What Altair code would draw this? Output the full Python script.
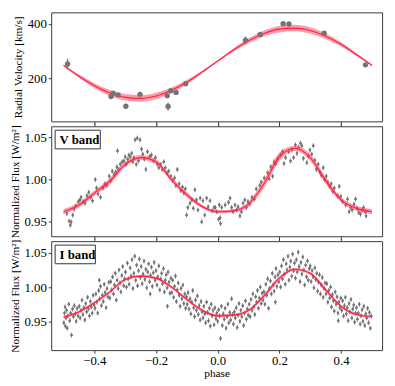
import altair as alt
import pandas as pd

# ---------------- data ----------------
rv_phase = [-0.487, -0.346, -0.339, -0.323, -0.298, -0.252, -0.164, -0.161, -0.152,
            -0.135, -0.104, 0.090, 0.138, 0.212, 0.231, 0.345, 0.479]
rv_value = [252, 132, 144, 138, 96, 140, 135, 95, 153, 147, 179, 340, 361, 401, 400, 366, 249]
rv_error = [20, 6, 6, 6, 9, 6, 6, 15, 6, 6, 6, 14, 6, 5, 5, 6, 5]

model_phase = [-0.50, -0.45, -0.40, -0.35, -0.30, -0.25, -0.20, -0.15, -0.10, -0.05, 0.00,
               0.05, 0.10, 0.15, 0.20, 0.25, 0.30, 0.35, 0.40, 0.45, 0.50]
rv_model = [247, 207, 172, 145, 129, 125, 134, 155, 185, 223, 263,
            303, 338, 365, 381, 385, 376, 355, 325, 287, 247]
rv_spread = [3, 6, 9, 11, 12, 12, 12, 10, 8, 5, 3, 6, 9, 11, 12, 12, 12, 10, 8, 5, 3]

v_model = [0.962, 0.970, 0.984, 0.998, 1.018, 1.026, 1.021, 1.000, 0.982, 0.968, 0.962,
           0.963, 0.971, 0.995, 1.027, 1.037, 1.026, 0.999, 0.976, 0.966, 0.962]
v_spread = [0.003, 0.003, 0.003, 0.004, 0.003, 0.003, 0.003, 0.003, 0.003, 0.002, 0.002,
            0.002, 0.003, 0.005, 0.005, 0.003, 0.004, 0.004, 0.003, 0.003, 0.003]

i_model = [0.956, 0.964, 0.977, 0.993, 1.011, 1.016, 1.013, 1.000, 0.982, 0.966, 0.958,
           0.959, 0.966, 0.987, 1.013, 1.026, 1.020, 0.996, 0.972, 0.960, 0.957]
i_spread = [0.002, 0.002, 0.002, 0.002, 0.002, 0.002, 0.002, 0.002, 0.002, 0.002, 0.002,
            0.002, 0.002, 0.003, 0.003, 0.002, 0.002, 0.003, 0.002, 0.002, 0.002]

v_phase = [
    -0.489, -0.482, -0.478, -0.475, -0.470, -0.466, -0.460, -0.452, -0.447, -0.443,
    -0.436, -0.430, -0.424, -0.418, -0.412, -0.406, -0.397, -0.393, -0.388, -0.380,
    -0.372, -0.366, -0.360, -0.352, -0.347, -0.342, -0.336, -0.331, -0.327, -0.325,
    -0.322, -0.316, -0.310, -0.304, -0.300, -0.297, -0.292, -0.288, -0.284, -0.279,
    -0.275, -0.272, -0.268, -0.264, -0.261, -0.257, -0.252, -0.247, -0.243, -0.238,
    -0.233, -0.228, -0.221, -0.215, -0.208, -0.202, -0.196, -0.191, -0.185, -0.180,
    -0.175, -0.170, -0.164, -0.159, -0.152, -0.146, -0.140, -0.136, -0.131, -0.125,
    -0.120, -0.114, -0.110, -0.105, -0.101, -0.097, -0.090, -0.084, -0.079, -0.074,
    -0.069, -0.064, -0.057, -0.052, -0.048, -0.042, -0.036, -0.031, -0.025, -0.018,
    -0.012,
    -0.008, -0.003, 0.003, 0.005, 0.008, 0.009, 0.013, 0.024, 0.035, 0.040,
    0.045, 0.050, 0.056, 0.061, 0.066, 0.072, 0.077, 0.082, 0.088, 0.093,
    0.098, 0.104, 0.111, 0.119, 0.125, 0.136, 0.141, 0.151, 0.162, 0.167,
    0.172, 0.178, 0.183, 0.188, 0.194, 0.204, 0.210, 0.215, 0.220, 0.230,
    0.236, 0.241, 0.246, 0.252, 0.257, 0.262, 0.268, 0.273, 0.278, 0.289,
    0.294, 0.299, 0.305, 0.310, 0.315, 0.320, 0.326, 0.331, 0.336, 0.342,
    0.347, 0.352, 0.357, 0.363, 0.368, 0.373, 0.378, 0.389, 0.394, 0.399,
    0.405, 0.415, 0.421, 0.426, 0.431, 0.436, 0.442, 0.447, 0.452, 0.457,
    0.463, 0.468, 0.473, 0.479, 0.481]
v_flux = [
    0.960, 0.951, 0.946, 0.950, 0.958, 0.965, 0.969, 0.974, 0.976, 0.979,
    0.974, 0.972, 0.981, 0.985, 0.979, 0.975, 1.000, 0.990, 0.983, 0.979,
    0.990, 0.995, 0.993, 1.004, 0.999, 1.010, 1.006, 1.009, 1.015, 1.034,
    1.012, 1.018, 1.021, 1.022, 1.027, 1.018, 1.024, 1.029, 1.027, 1.031,
    1.021, 1.026, 1.047, 1.018, 1.049, 1.022, 1.047, 1.036, 1.030, 1.024,
    1.012, 1.033, 1.027, 1.029, 1.022, 1.026, 1.018, 1.014, 1.018, 1.012,
    1.021, 1.014, 1.008, 1.010, 1.004, 0.999, 1.002, 0.993, 1.012, 0.995,
    0.987, 0.991, 0.984, 0.989, 0.958, 0.967, 0.972, 0.976, 0.966, 0.988,
    0.976, 0.964, 0.978, 0.950, 0.975, 0.958, 0.978, 0.968, 0.975, 0.963,
    0.967,
    0.967, 0.962, 0.953, 0.970, 0.955, 0.948, 0.967, 0.970, 0.973, 0.978,
    0.967, 0.962, 0.970, 0.964, 0.968, 0.957, 0.962, 0.972, 0.976, 0.967,
    0.974, 0.971, 0.979, 0.977, 0.989, 0.993, 0.997, 1.002, 1.008, 1.001,
    1.015, 1.004, 1.021, 1.019, 1.024, 1.029, 1.033, 1.019, 1.026, 1.033,
    1.022, 1.035, 1.026, 1.041, 1.031, 1.038, 1.043, 1.040, 1.025, 1.020,
    1.028, 1.035, 1.030, 1.040, 1.023, 1.012, 1.018, 1.009, 1.005, 1.014,
    1.000, 1.004, 0.997, 0.992, 0.995, 0.986, 0.990, 0.981, 0.992, 0.980,
    0.974, 0.970, 0.977, 0.962, 0.967, 0.964, 0.971, 0.977, 0.966, 0.961,
    0.959, 0.964, 0.967, 0.962, 0.957]

i_phase = [
    -0.499, -0.497, -0.495, -0.494, -0.492, -0.490, -0.488, -0.486, -0.483, -0.480,
    -0.477, -0.474, -0.471, -0.468, -0.465, -0.462, -0.459, -0.456, -0.453,
    -0.449, -0.446, -0.443, -0.440, -0.437, -0.434, -0.431, -0.428, -0.425, -0.422,
    -0.419, -0.416, -0.413, -0.410, -0.407, -0.404, -0.401,
    -0.398, -0.395, -0.392, -0.389, -0.386, -0.383, -0.380, -0.377, -0.374, -0.371,
    -0.368, -0.365, -0.362, -0.359, -0.356, -0.353, -0.384,
    -0.350, -0.347, -0.344, -0.341, -0.338, -0.335, -0.332, -0.329, -0.326, -0.323,
    -0.320, -0.317, -0.314, -0.311, -0.308, -0.305, -0.302,
    -0.299, -0.296, -0.293, -0.290, -0.287, -0.284, -0.281, -0.278, -0.275, -0.272,
    -0.269, -0.266, -0.263, -0.260, -0.257, -0.254, -0.251,
    -0.248, -0.245, -0.242, -0.239, -0.236, -0.233, -0.230, -0.227, -0.224, -0.221,
    -0.218, -0.215, -0.212, -0.209, -0.206, -0.203, -0.219,
    -0.200, -0.197, -0.194, -0.191, -0.188, -0.185, -0.182, -0.179, -0.176, -0.173,
    -0.170, -0.167, -0.164, -0.161, -0.158, -0.155, -0.152,
    -0.149, -0.146, -0.143, -0.140, -0.137, -0.134, -0.131, -0.128, -0.125, -0.122,
    -0.119, -0.116, -0.113, -0.110, -0.107, -0.104, -0.101, -0.163,
    -0.099, -0.096, -0.093, -0.090, -0.087, -0.084, -0.081, -0.078, -0.075, -0.072,
    -0.069, -0.066, -0.063, -0.060, -0.057, -0.054, -0.051,
    -0.048, -0.045, -0.042, -0.039, -0.036, -0.033, -0.030, -0.027, -0.024, -0.021,
    -0.018, -0.015, -0.012, -0.009, -0.006, -0.003,
    0.000, 0.003, 0.006, 0.009, 0.012, 0.015, 0.018, 0.021, 0.024, 0.027,
    0.030, 0.033, 0.036, 0.039, 0.042, 0.045, 0.048,
    0.051, 0.054, 0.057, 0.060, 0.063, 0.066, 0.069, 0.072, 0.075, 0.078,
    0.081, 0.084, 0.087, 0.090, 0.093, 0.096, 0.099,
    0.102, 0.105, 0.108, 0.111, 0.114, 0.117, 0.120, 0.123, 0.126, 0.129,
    0.132, 0.135, 0.138, 0.141, 0.144, 0.147,
    0.150, 0.153, 0.156, 0.159, 0.162, 0.165, 0.168, 0.171, 0.174, 0.177,
    0.180, 0.183, 0.186, 0.189, 0.192, 0.195, 0.198, 0.187,
    0.201, 0.204, 0.207, 0.210, 0.213, 0.216, 0.219, 0.222, 0.225, 0.228,
    0.231, 0.234, 0.237, 0.240, 0.243, 0.246, 0.249,
    0.252, 0.255, 0.258, 0.261, 0.264, 0.267, 0.270, 0.273, 0.276, 0.279,
    0.282, 0.285, 0.288, 0.291, 0.294, 0.297,
    0.300, 0.303, 0.306, 0.309, 0.312, 0.315, 0.318, 0.321, 0.324, 0.327,
    0.330, 0.333, 0.336, 0.339, 0.342, 0.345, 0.348,
    0.351, 0.354, 0.357, 0.360, 0.363, 0.366, 0.369, 0.372, 0.375, 0.378,
    0.381, 0.384, 0.387, 0.390, 0.393, 0.396, 0.399, 0.391,
    0.402, 0.405, 0.408, 0.411, 0.414, 0.417, 0.420, 0.423, 0.426, 0.429,
    0.432, 0.435, 0.438, 0.441, 0.444, 0.447,
    0.450, 0.453, 0.456, 0.459, 0.462, 0.465, 0.468, 0.471, 0.474, 0.477,
    0.480, 0.483, 0.486, 0.489, 0.492, 0.495, 0.498]
i_flux = [
    0.948, 0.962, 0.971, 0.943, 0.955, 0.966, 0.940, 0.958, 0.975, 0.951,
    0.962, 0.930, 0.968, 0.957, 0.973, 0.961, 0.950, 0.969, 0.958,
    0.972, 0.955, 0.966, 0.981, 0.960, 0.970, 0.952, 0.976, 0.964, 0.985,
    0.968, 0.958, 0.979, 0.971, 0.962, 0.988, 0.974,
    0.969, 0.990, 0.978, 0.962, 0.995, 0.983, 1.001, 0.973, 0.988, 0.979,
    1.004, 0.992, 0.970, 0.998, 0.986, 1.007, 1.010,
    0.984, 1.008, 0.996, 1.015, 0.990, 1.003, 1.020, 0.981, 1.010, 0.998,
    1.025, 1.006, 0.993, 1.017, 1.030, 1.002, 1.012,
    1.022, 1.000, 1.035, 1.012, 1.004, 1.028, 1.016, 1.040, 0.998, 1.020,
    1.045, 1.010, 1.032, 1.002, 1.024, 1.041, 1.014,
    1.030, 1.005, 1.019, 1.038, 1.011, 1.026, 0.999, 1.022, 1.034, 1.008,
    1.017, 1.029, 1.001, 1.021, 1.036, 1.010, 0.990,
    1.024, 1.003, 1.015, 1.031, 0.996, 1.012, 1.020, 1.005, 1.027, 0.993,
    1.010, 1.018, 0.999, 1.022, 1.007, 0.991, 1.013,
    0.992, 1.010, 0.985, 1.001, 1.016, 0.979, 0.996, 1.006, 0.988, 0.972,
    0.998, 0.983, 1.003, 0.976, 0.990, 0.969, 0.986, 0.972,
    0.975, 0.992, 0.968, 0.983, 0.961, 0.978, 0.995, 0.970, 0.957, 0.981,
    0.966, 0.987, 0.960, 0.973, 0.952, 0.979, 0.964,
    0.955, 0.972, 0.961, 0.948, 0.978, 0.963, 0.951, 0.969, 0.943, 0.975,
    0.958, 0.966, 0.945, 0.970, 0.954, 0.962,
    0.950, 0.967, 0.958, 0.925, 0.972, 0.944, 0.961, 0.953, 0.969, 0.940,
    0.957, 0.975, 0.948, 0.963, 0.952, 0.983, 0.960,
    0.946, 0.964, 0.955, 0.970, 0.941, 0.959, 0.976, 0.950, 0.966, 0.957,
    0.973, 0.944, 0.962, 0.980, 0.953, 0.968, 0.959,
    0.975, 0.957, 0.982, 0.966, 0.990, 0.971, 0.960, 0.986, 0.978, 0.995,
    0.969, 0.984, 1.000, 0.976, 0.991, 0.981,
    0.993, 0.975, 1.004, 0.988, 1.012, 0.969, 0.998, 1.009, 0.990, 1.020,
    1.003, 0.994, 1.015, 1.027, 1.001, 1.018, 1.008, 0.978,
    1.022, 1.000, 1.031, 1.012, 1.040, 1.019, 1.004, 1.034, 1.025, 1.045,
    1.010, 1.029, 1.038, 1.016, 1.048, 1.024, 1.035,
    1.013, 1.040, 1.022, 1.051, 1.030, 1.008, 1.036, 1.019, 1.044, 1.025,
    1.003, 1.032, 1.015, 1.038, 1.010, 1.027,
    1.031, 1.008, 1.024, 1.015, 0.999, 1.028, 1.011, 1.020, 0.994, 1.007,
    1.018, 0.990, 1.003, 1.014, 0.985, 0.998, 1.006,
    0.990, 1.005, 0.978, 0.995, 0.984, 1.000, 0.971, 0.989, 0.980, 0.965,
    0.993, 0.975, 0.986, 0.962, 0.978, 0.970, 0.984, 0.951,
    0.966, 0.980, 0.958, 0.973, 0.985, 0.961, 0.970, 0.951, 0.976, 0.964,
    0.982, 0.955, 0.968, 0.974, 0.949, 0.962,
    0.970, 0.953, 0.962, 0.975, 0.946, 0.958, 0.967, 0.950, 0.972, 0.944,
    0.961, 0.955, 0.969, 0.948, 0.963, 0.940, 0.958]

panel_labels = ["V band", "I band"]
x_ticks = [-0.4, -0.2, 0.0, 0.2, 0.4]

# ---------------- tables ----------------
rv_df = pd.DataFrame({
    "phase": rv_phase, "rv": rv_value,
    "lo": [v - e for v, e in zip(rv_value, rv_error)],
    "hi": [v + e for v, e in zip(rv_value, rv_error)],
})
model_df = pd.DataFrame({
    "phase": model_phase,
    "rv": rv_model,
    "rv_lo": [m - s for m, s in zip(rv_model, rv_spread)],
    "rv_hi": [m + s for m, s in zip(rv_model, rv_spread)],
    "v": v_model,
    "v_lo": [m - s for m, s in zip(v_model, v_spread)],
    "v_hi": [m + s for m, s in zip(v_model, v_spread)],
    "i": i_model,
    "i_lo": [m - s for m, s in zip(i_model, i_spread)],
    "i_hi": [m + s for m, s in zip(i_model, i_spread)],
})
n_v = min(len(v_phase), len(v_flux))
v_df = pd.DataFrame({"phase": v_phase[:n_v], "flux": v_flux[:n_v]})
n_i = min(len(i_phase), len(i_flux))
i_df = pd.DataFrame({"phase": i_phase[:n_i], "flux": i_flux[:n_i]})

# ---------------- styling ----------------
FONT = "Liberation Serif"
GRAY = "#747474"
BAND = "#ff4a64"
LINE = "#ff1f45"
W = 337
PLUS = "M0,-1V1M-0.45,0H0.45M-0.3,-0.3H0.3V0.3H-0.3Z"

xscale = alt.Scale(domain=[-0.54, 0.533], nice=False, zero=False)


def xenc(labels, title=None):
    return alt.X("phase:Q", scale=xscale,
                 axis=alt.Axis(values=x_ticks, labels=labels, title=title,
                               format=".1f", orient="bottom", titleFont=FONT,
                               labelFont=FONT, titlePadding=0, minExtent=0,
                               labelPadding=2))


def top_ticks(df):
    return alt.Chart(df).mark_point(opacity=0).encode(
        x=alt.X("phase:Q", scale=xscale,
                axis=alt.Axis(values=x_ticks, labels=False, title=None,
                              orient="top", minExtent=0)),
        y=alt.value(0),
    )


def label_box(text, x2):
    d = pd.DataFrame({"t": [text]})
    box = alt.Chart(d).mark_rect(fill="white", stroke="#333333", strokeWidth=1).encode(
        x=alt.value(4), x2=alt.value(x2), y=alt.value(4), y2=alt.value(23))
    txt = alt.Chart(d).mark_text(align="left", baseline="middle", font=FONT,
                                 fontWeight="bold", fontSize=13, color="black").encode(
        x=alt.value(8.5), y=alt.value(14), text="t:N")
    return box, txt


# ---- top panel: radial velocity ----
rv_axis = alt.Axis(values=[200, 400], title="Radial Velocity [km/s]", format="d",
                   titleFont=FONT, labelFont=FONT)
rv_scale = alt.Scale(domain=[40, 443], nice=False, zero=False)

rv_band = alt.Chart(model_df).mark_area(color=BAND, opacity=0.55, interpolate="monotone").encode(
    x=xenc(False), y=alt.Y("rv_lo:Q", scale=rv_scale, axis=rv_axis), y2="rv_hi:Q")
rv_line = alt.Chart(model_df).mark_line(color=LINE, strokeWidth=1.2, interpolate="monotone").encode(
    x=xenc(False), y=alt.Y("rv:Q", scale=rv_scale, axis=rv_axis))
rv_err = alt.Chart(rv_df).mark_rule(color=GRAY, strokeWidth=1.3).encode(
    x=xenc(False), y=alt.Y("lo:Q", scale=rv_scale, axis=rv_axis), y2="hi:Q")
rv_pts = alt.Chart(rv_df).mark_circle(color=GRAY, size=30, opacity=1).encode(
    x=xenc(False), y=alt.Y("rv:Q", scale=rv_scale, axis=rv_axis))
top = alt.layer(rv_band, rv_line, rv_err, rv_pts).properties(width=W, height=111)


# ---- flux panels ----
def flux_panel(df, key, domain, label, box_w, show_labels, height):
    scale = alt.Scale(domain=domain, nice=False, zero=False)
    axis = alt.Axis(values=[0.95, 1.00, 1.05], format=".2f",
                    title="Normalized Flux [W/m²]", titleFont=FONT, labelFont=FONT)
    xt = "phase" if show_labels else None
    pts = alt.Chart(df).mark_point(shape=PLUS, size=24, filled=True, fill=GRAY,
                                   stroke=GRAY, strokeWidth=1, opacity=1).encode(
        x=xenc(show_labels, xt), y=alt.Y("flux:Q", scale=scale, axis=axis))
    band = alt.Chart(model_df).mark_area(color=BAND, opacity=0.55, interpolate="monotone").encode(
        x=xenc(show_labels, xt), y=alt.Y(f"{key}_lo:Q", scale=scale, axis=axis), y2=f"{key}_hi:Q")
    line = alt.Chart(model_df).mark_line(color=LINE, strokeWidth=1.2, interpolate="monotone").encode(
        x=xenc(show_labels, xt), y=alt.Y(f"{key}:Q", scale=scale, axis=axis))
    box, txt = label_box(label, box_w)
    main = alt.layer(pts, band, line, box, txt)
    return alt.layer(main, top_ticks(df)).resolve_axis(x="independent").properties(
        width=W, height=height)


mid = flux_panel(v_df, "v", [0.933, 1.063], panel_labels[0], 50, False, 112)
bot = flux_panel(i_df, "i", [0.908, 1.067], panel_labels[1], 45, True, 111)

chart = alt.vconcat(top, mid, bot, spacing=5, bounds="flush").properties(
    padding={"left": 0, "top": 0, "right": 4, "bottom": 0}
).configure_view(stroke="#3a3a3a", strokeWidth=1).configure_axis(
    labelFont=FONT, titleFont=FONT, labelFontSize=13, titleFontSize=11.5,
    titleFontWeight="normal", labelColor="black", titleColor="black",
    tickColor="#3a3a3a", tickSize=3, tickWidth=1, domain=False, grid=False,
    labelPadding=2, titlePadding=4, minExtent=0,
)

chart.save("out.html", embed_options={"renderer": "svg", "actions": False})
